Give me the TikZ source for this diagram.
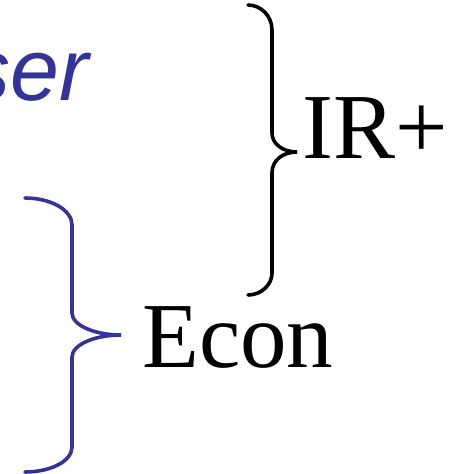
\documentclass[tikz,border=0pt]{standalone}
\usepackage{fontspec}
\setmainfont{Liberation Serif}
\setsansfont{Liberation Sans}
\usepackage{tikz}
\usetikzlibrary{positioning}
\definecolor{slateblue}{RGB}{51,51,153}
\tikzset{
  brc/.style={line width=3.6pt,line cap=round,#1},
  brc/.default={black},
  lbl/.style={inner sep=0pt,anchor=base west,font=\fontsize{93}{100}\selectfont},
  tag/.style={inner sep=0pt,anchor=base east,text=slateblue,font=\sffamily\itshape\fontsize{88}{96}\selectfont},
}

\begin{document}
\begin{tikzpicture}[x=1pt,y=-1pt]
 \useasboundingbox (0,0) rectangle (460,474);
 \clip (0,0) rectangle (460,474);
 % word cut off at the left edge
 \node[tag] (ser) at (89,100) {ser};
 % black brace
 \coordinate (irtip) at (297,152);
 \draw[brc] (248,5) .. controls (261,5) and (272,16) .. (272,30) -- (272,133)
   .. controls (272,144) and (283,152) .. (irtip)
   .. controls (283,152) and (272,160) .. (272,173) -- (272,273)
   .. controls (272,285) and (261,295) .. (248,295);
 \node[lbl] (ir) at (302,158) {IR+};
 % blue brace
 \coordinate (econtip) at (121,335);
 \draw[brc=slateblue] (25,198) .. controls (51,198) and (72,210) .. (72,225) -- (72,313)
   .. controls (72,325) and (94,335) .. (econtip)
   .. controls (94,335) and (72,345) .. (72,357) -- (72,447)
   .. controls (72,461) and (51,472) .. (25,472);
 \node[lbl] (econ) at (142,367) {Econ};
\end{tikzpicture}
\end{document}
